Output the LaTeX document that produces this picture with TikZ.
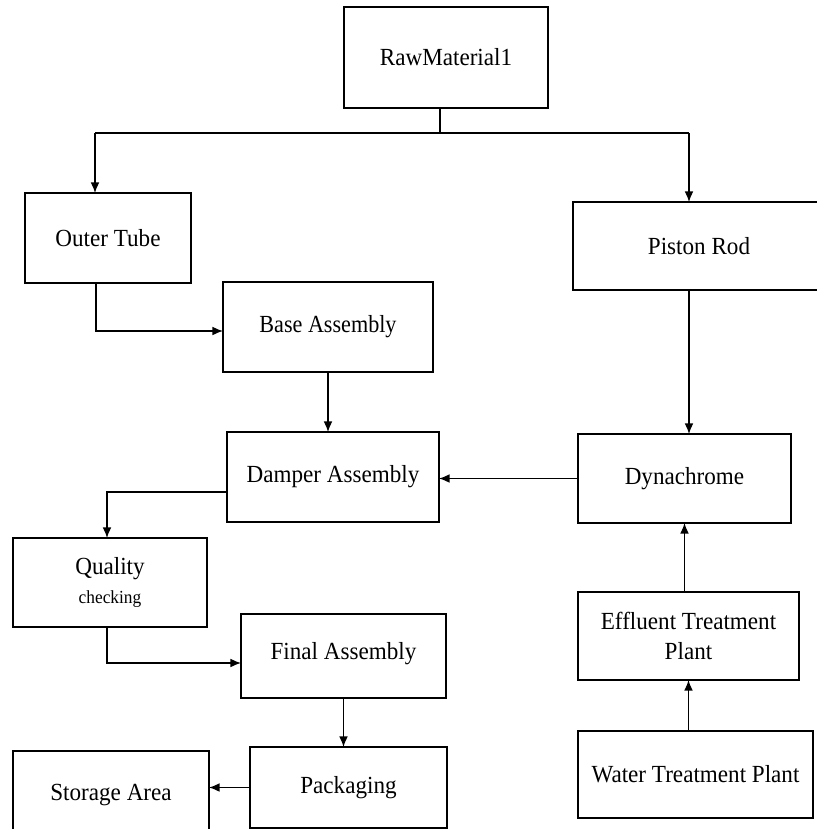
\documentclass[tikz,border=0pt]{standalone}
\usepackage{fontspec}
\setmainfont{Liberation Serif}
\usetikzlibrary{arrows.meta}

\begin{document}
\begin{tikzpicture}[
        x=0.02cm, y=-0.02cm,
        every node/.style = {inner sep=0pt, outer sep=0pt, align=center,
            font=\fontsize{14}{17}\selectfont},
        box/.style = {draw, line width=1.1pt, rectangle},
        arrow/.style = {-{Latex[length=6pt,width=5pt]}, line width=0.8pt},
        line/.style = {line width=0.8pt},
        ]
        \useasboundingbox (0,0) rectangle (817,829);
        \clip (0,0) rectangle (817,829);
        \node[box,minimum width=4.08cm,minimum height=2.02cm] (raw-material) at (446,57.5) {\scalebox{0.94}[1]{RawMaterial1}};
        \node[box,minimum width=3.32cm,minimum height=1.80cm] (outer-tube) at (108,238) {\scalebox{0.94}[1]{Outer Tube}};
        \node[box,minimum width=5.04cm,minimum height=1.76cm] (piston-rod) at (699,246) {\scalebox{0.94}[1]{Piston Rod}};
        \node[box,minimum width=4.20cm,minimum height=1.80cm] (base-assembly) at (328,327) {\raisebox{-0.08cm}{\scalebox{0.9}[1]{Base Assembly}}};
        \node[box,minimum width=4.24cm,minimum height=1.80cm] (damper-assembly) at (333,477) {\scalebox{0.94}[1]{Damper Assembly}};
        \node[box,minimum width=4.26cm,minimum height=1.78cm] (dynachrome) at (684.5,478.5) {\scalebox{0.94}[1]{Dynachrome}};
        \node[box,minimum width=3.88cm,minimum height=1.78cm] (quality) at (110,582.5)
            {\scalebox{0.94}[1]{Quality}\\[-1pt]{\fontsize{10.5}{12}\selectfont\scalebox{0.94}[1]{checking}}};
        \node[box,minimum width=4.10cm,minimum height=1.68cm] (final-assembly) at (343.5,656) {\raisebox{0.2cm}{\scalebox{0.94}[1]{Final Assembly}}};
        \node[box,minimum width=4.42cm,minimum height=1.76cm] (effluent) at (688.5,636) {\scalebox{0.94}[1]{Effluent Treatment}\\\scalebox{0.94}[1]{Plant}};
        \node[box,minimum width=3.94cm,minimum height=1.62cm] (packaging) at (348.5,787.5) {\scalebox{0.94}[1]{Packaging}};
        \node[box,minimum width=3.92cm,minimum height=1.76cm] (storage) at (111,795) {\scalebox{0.94}[1]{Storage Area}};
        \node[box,minimum width=4.70cm,minimum height=1.74cm] (water) at (695.5,774.5) {\raisebox{-0.06cm}{\scalebox{0.94}[1]{Water Treatment Plant}}};
        % bend points
        \coordinate (split) at (440,133);
        \coordinate (split-left) at (95,133);
        \coordinate (split-right) at (689,133);
        \coordinate (bend-outer) at (96,331);
        \coordinate (bend-damper) at (107,492);
        \coordinate (bend-quality) at (107,663);
        \draw[line] (split |- raw-material.south) -- (split);
        \draw[line] (split-left) -- (split-right);
        \draw[arrow] (split-left) -- (split-left |- outer-tube.north);
        \draw[arrow] (split-right) -- (split-right |- piston-rod.north);
        \draw[arrow] (bend-outer |- outer-tube.south) -- (bend-outer) -- (bend-outer -| base-assembly.west);
        \draw[arrow] (base-assembly.south) -- (base-assembly.south |- damper-assembly.north);
        \draw[arrow] (split-right |- piston-rod.south) -- (split-right |- dynachrome.north);
        \draw[arrow] (dynachrome.west) -- (dynachrome.west -| damper-assembly.east);
        \draw[arrow] (bend-damper -| damper-assembly.west) -- (bend-damper) -- (bend-damper |- quality.north);
        \draw[arrow] (bend-quality |- quality.south) -- (bend-quality) -- (bend-quality -| final-assembly.west);
        \draw[arrow] (final-assembly.south) -- (final-assembly.south |- packaging.north);
        \draw[arrow] (packaging.west) -- (packaging.west -| storage.east);
        \draw[arrow] (effluent.south |- water.north) -- (effluent.south);
        \draw[arrow] (dynachrome.south |- effluent.north) -- (dynachrome.south);
    \end{tikzpicture}
\end{document}
